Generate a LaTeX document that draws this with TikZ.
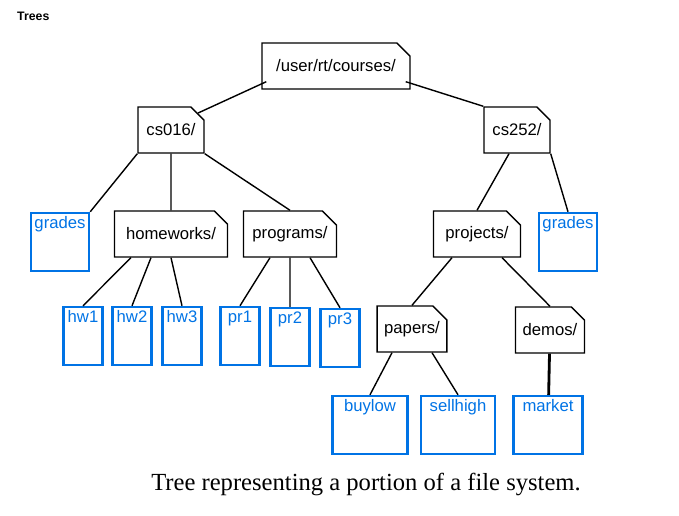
\documentclass[tikz,border=0pt]{standalone}
\usepackage{fontspec}
\setmainfont{Liberation Sans}
\newfontfamily\capfont{Liberation Serif}
\usetikzlibrary{shapes.misc}
\tikzset{
	folder/.style={draw, thick, chamfered rectangle, chamfered rectangle corners=north east,
		chamfered rectangle xsep=4pt, chamfered rectangle ysep=4pt,
		inner sep=0pt, minimum width=#1*0.02cm, minimum height=0.92cm, font=\fontsize{9.5}{11}\selectfont},
	file/.style={draw=blue!50!cyan!90!black, line width=1.4pt, text=blue!50!cyan!90!black, inner ysep=0pt, inner xsep=0pt,
		minimum width=#1*0.02cm, text height=9pt, text depth=24pt, font=\fontsize{9.5}{11}\selectfont},
	edge/.style={thick}
}
\begin{document}
\begin{tikzpicture}[x=0.02cm, y=-0.02cm]
	\useasboundingbox (0,0) rectangle (679,516);
	\node[font=\bfseries\fontsize{7}{8}\selectfont, anchor=west] (title) at (11,16) {Trees};
	% folders
	\node[folder=148] (root) at (336,66) {/user/rt/courses/};
	\node[folder=66] (cs016) at (171,130) {cs016/};
	\node[folder=66] (cs252) at (517,130) {cs252/};
	\node[folder=113] (hws) at (171,234) {homeworks/};
	\node[folder=93] (progs) at (290,234) {programs/};
	\node[folder=87] (projs) at (477,234) {projects/};
	\node[folder=65] (papers) at (412,329) {papers/};
	\node[folder=69] (demos) at (550,330) {demos/};
	% files
	\node[file=58] (grades1) at (60,242) {grades};
	\node[file=58] (grades2) at (568,242) {grades};
	\node[file=39] (hw1) at (83,336) {hw1};
	\node[file=39] (hw2) at (132,336) {hw2};
	\node[file=39] (hw3) at (182,336) {hw3};
	\node[file=39] (pr1) at (240,336) {pr1};
	\node[file=39] (pr2) at (290,337) {pr2};
	\node[file=39] (pr3) at (340,338) {pr3};
	\node[file=75] (buylow) at (370,425) {buylow};
	\node[file=74] (sellhigh) at (458,425) {sellhigh};
	\node[file=69] (market) at (548,425) {market};
	% edges
	\draw[edge] (root.south west) ++(5,-8) -- (cs016.north east);
	\draw[edge] (root.south east) ++(-5,-8) -- (cs252.north west);
	\draw[edge] (cs016.south west) -- (grades1.north east);
	\draw[edge] (cs016) -- (hws);
	\draw[edge] (cs016.south east) -- (progs.north);
	\draw[edge] (cs252.south) ++(-8,0) -- (projs.north);
	\draw[edge] (cs252.south east) -- (grades2.north);
	\draw[edge] (hws.south) ++(-40,0) -- (hw1.north);
	\draw[edge] (hws.south) ++(-20,0) -- (hw2.north);
	\draw[edge] (hws.south) ++(0,0) -- (hw3.north);
	\draw[edge] (progs.south) ++(-20,0) -- (pr1.north);
	\draw[edge] (progs) -- (pr2);
	\draw[edge] (progs.south) ++(20,0) -- (pr3.north);
	\draw[edge] (projs.south) ++(-25,0) -- (papers.north);
	\draw[edge] (projs.south) ++(25,0) -- (demos.north);
	\draw[edge] (papers.south) ++(-20,0) -- (buylow.north);
	\draw[edge] (papers.south) ++(20,0) -- (sellhigh.north);
	\draw[line width=1.6pt] (demos) -- (market);
	% caption
	\node[font=\capfont\fontsize{14}{16}\selectfont] (caption) at (366,484) {Tree representing a portion of a file system.};
\end{tikzpicture}
\end{document}
